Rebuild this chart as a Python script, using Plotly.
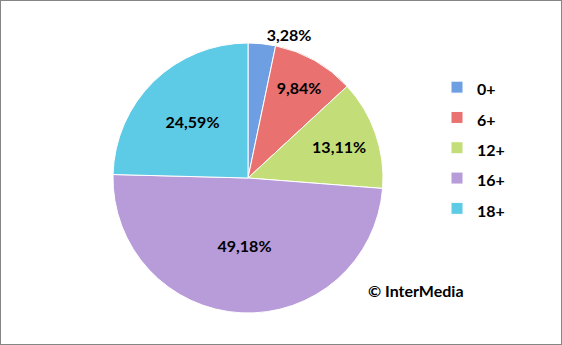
import plotly.graph_objects as go

categories = ["0+", "6+", "12+", "16+", "18+"]
shares = [3.28, 9.84, 13.11, 49.18, 24.59]
colors = ["#6F9FE3", "#E9716F", "#C3DE78", "#B89BD9", "#5DCAE6"]

text_labels = [f"{v:.2f}".replace(".", ",") + "%" for v in shares]
positions = ["outside", "inside", "inside", "inside", "inside"]

W, H = 562, 345
cx, cy, r = 248, 178, 135

lab_font = dict(family="Lato", size=16, color="black", weight="bold")

fig = go.Figure(go.Pie(
    labels=[f'<span style="font-size:16px">{c}</span>' for c in categories],
    values=shares,
    text=text_labels,
    texttemplate="%{text}",
    textposition=positions,
    insidetextorientation="horizontal",
    textfont=lab_font,
    outsidetextfont=lab_font,
    marker=dict(colors=colors, line=dict(color="white", width=1)),
    sort=False,
    direction="clockwise",
    rotation=0,
    hoverinfo="label+text",
    domain=dict(x=[(cx - r) / W, (cx + r) / W], y=[1 - (cy + r) / H, 1 - (cy - r) / H]),
))

fig.update_layout(
    width=W, height=H,
    margin=dict(l=0, r=0, t=0, b=0),
    paper_bgcolor="white",
    plot_bgcolor="white",
    showlegend=True,
    legend=dict(
        x=437 / W, y=1 - 67 / H, xanchor="left", yanchor="top",
        font=dict(family="Lato", size=21, color="black", weight="bold"),
        bgcolor="rgba(0,0,0,0)",
        itemwidth=30,
    ),
    annotations=[dict(
        text="© InterMedia", x=416 / W, y=1 - 290 / H, xref="paper", yref="paper",
        xanchor="center", yanchor="middle",
        showarrow=False, font=lab_font,
    )],
    shapes=[dict(type="rect", xref="paper", yref="paper", x0=0, y0=0, x1=1, y1=1,
                 line=dict(color="#868686", width=2))],
)

fig.write_html("out.html")
